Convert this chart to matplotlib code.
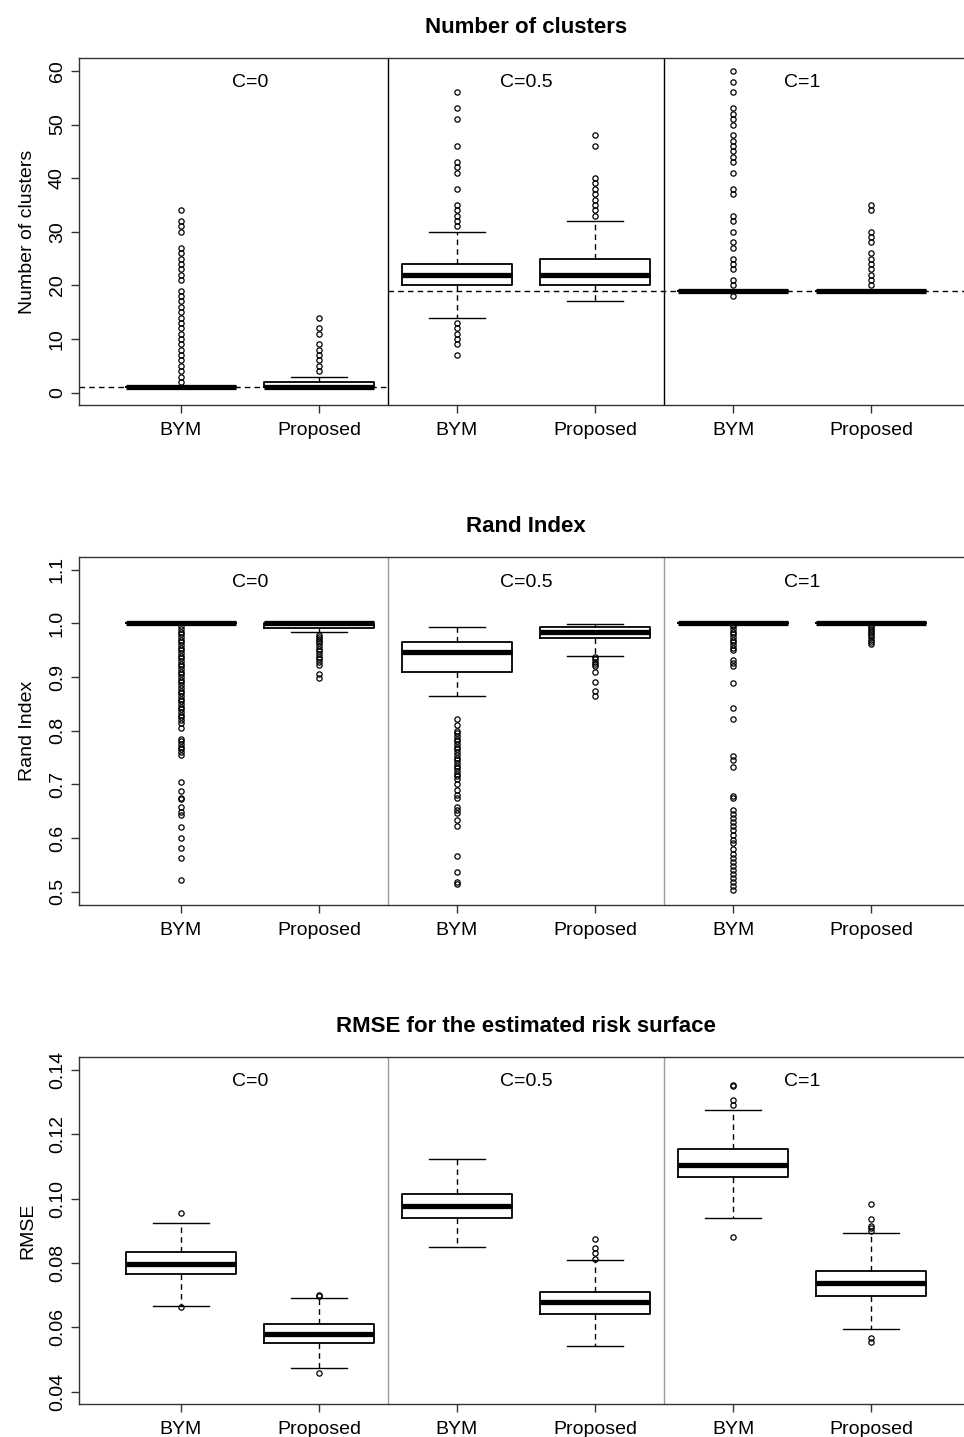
import matplotlib
matplotlib.use("Agg")
import matplotlib.pyplot as plt

plt.rcParams['font.family'] = ['Liberation Sans', 'DejaVu Sans']

groups = ["BYM", "Proposed", "BYM", "Proposed", "BYM", "Proposed"]
c_labels = ["C=0", "C=0.5", "C=1"]

# number of clusters
nc_q1 = [1, 1, 20, 20, 19, 19]
nc_med = [1, 1, 22, 22, 19, 19]
nc_q3 = [1, 2, 24, 25, 19, 19]
nc_lo = [1, 1, 14, 17, 19, 19]
nc_hi = [1, 3, 30, 32, 19, 19]
nc_out = [
    [2, 3, 4, 5, 6, 7, 8, 9, 10, 11, 12, 13, 14, 15, 16, 17, 18, 19, 21, 22, 23, 24, 25, 26, 27, 30, 31, 32, 34],
    [4, 5, 6, 7, 8, 9, 11, 12, 14],
    [7, 9, 10, 11, 12, 13, 31, 32, 33, 34, 35, 38, 41, 42, 43, 46, 51, 53, 56],
    [33, 34, 35, 36, 37, 38, 39, 40, 46, 48],
    [18, 20, 21, 23, 24, 25, 27, 28, 30, 32, 33, 37, 38, 41, 43, 44, 45, 46, 47, 48, 50, 51, 52, 53, 56, 58, 60],
    [20, 21, 22, 23, 24, 25, 26, 28, 29, 30, 34, 35],
]
nc_true = [1, 19, 19]

# rand index
ri_q1 = [1.0, 0.9924, 0.909, 0.973, 1.0, 1.0]
ri_med = [1.0, 1.0, 0.946, 0.984, 1.0, 1.0]
ri_q3 = [1.0, 1.0, 0.966, 0.993, 1.0, 1.0]
ri_lo = [1.0, 0.985, 0.864, 0.940, 1.0, 1.0]
ri_hi = [1.0, 1.0, 0.993, 0.999, 1.0, 1.0]
ri_out = [
    [0.995, 0.99, 0.985, 0.98, 0.975, 0.97, 0.965, 0.96, 0.955, 0.95, 0.945, 0.94, 0.935, 0.93,
     0.925, 0.92, 0.915, 0.91, 0.905, 0.9, 0.895, 0.89, 0.885, 0.88, 0.875, 0.87, 0.865, 0.86,
     0.855, 0.85, 0.845, 0.84, 0.835, 0.83, 0.825, 0.82, 0.815, 0.805, 0.785, 0.78, 0.775, 0.77,
     0.765, 0.76, 0.755, 0.705, 0.687, 0.675, 0.672, 0.657, 0.648, 0.643, 0.62, 0.6, 0.582,
     0.562, 0.522],
    [0.979, 0.975, 0.971, 0.967, 0.963, 0.958, 0.953, 0.948, 0.943, 0.938, 0.933, 0.928, 0.923,
     0.906, 0.898],
    [0.821, 0.811, 0.80, 0.795, 0.79, 0.785, 0.78, 0.775, 0.77, 0.765, 0.76, 0.755, 0.75, 0.745,
     0.74, 0.735, 0.73, 0.725, 0.72, 0.715, 0.71, 0.70, 0.69, 0.68, 0.675, 0.658, 0.652, 0.646,
     0.634, 0.622, 0.566, 0.537, 0.517, 0.514],
    [0.937, 0.933, 0.929, 0.925, 0.920, 0.910, 0.890, 0.875, 0.864],
    [0.998, 0.995, 0.99, 0.985, 0.98, 0.975, 0.97, 0.965, 0.96, 0.955, 0.95, 0.932, 0.926, 0.921,
     0.889, 0.842, 0.821, 0.753, 0.745, 0.733, 0.678, 0.674, 0.652, 0.645, 0.638, 0.63, 0.622,
     0.615, 0.606, 0.597, 0.59, 0.58, 0.57, 0.562, 0.555, 0.548, 0.54, 0.532, 0.525, 0.518,
     0.51, 0.503],
    [0.998, 0.994, 0.99, 0.986, 0.982, 0.978, 0.974, 0.970, 0.966, 0.962],
]

# rmse
rm_q1 = [0.0766, 0.0551, 0.0940, 0.0643, 0.1068, 0.0697]
rm_med = [0.0797, 0.0579, 0.0976, 0.0678, 0.1105, 0.0737]
rm_q3 = [0.0833, 0.0609, 0.1013, 0.0711, 0.1154, 0.0776]
rm_lo = [0.0667, 0.0475, 0.0849, 0.0543, 0.0939, 0.0594]
rm_hi = [0.0924, 0.0692, 0.1122, 0.0809, 0.1274, 0.0893]
rm_out = [
    [0.0954, 0.0662],
    [0.0700, 0.0698, 0.0457],
    [],
    [0.0874, 0.0847, 0.0830, 0.0814],
    [0.1352, 0.1349, 0.1305, 0.1291, 0.0880],
    [0.0983, 0.0937, 0.0915, 0.0908, 0.0899, 0.0568, 0.0555],
]

W, H = 964, 1437
XMIN, XMAX = 0.261, 6.739
FS = 14


def make_stats(q1, med, q3, lo, hi, out):
    stats = []
    for i in range(len(med)):
        stats.append(dict(med=med[i], q1=q1[i], q3=q3[i], whislo=lo[i],
                          whishi=hi[i], fliers=out[i], label=groups[i]))
    return stats


def draw_panel(top, bottom, stats, title, ylabel, ylim, yticks, yticklabels, sepcolor):
    ax = fig.add_axes([79 / W, 1 - bottom / H, (973 - 79) / W, (bottom - top) / H])
    ax.bxp(stats, positions=range(1, 7), widths=0.8, capwidths=0.4,
           boxprops=dict(color='black', linewidth=1.3),
           medianprops=dict(color='black', linewidth=3.8, solid_capstyle='butt'),
           whiskerprops=dict(color='black', linewidth=1.0, linestyle=(0, (4, 3))),
           capprops=dict(color='black', linewidth=1.0),
           flierprops=dict(marker='o', markerfacecolor='none', markeredgecolor='black',
                           markersize=3.8, markeredgewidth=0.9, linestyle='none'))
    ax.set_xlim(XMIN, XMAX)
    ax.set_ylim(*ylim)
    ax.set_yticks(yticks)
    ax.set_yticklabels(yticklabels, rotation=90, va='center')
    ax.tick_params(axis='both', direction='out', length=5.5, width=1.0, labelsize=FS,
                   color='#333333')
    ax.tick_params(axis='x', pad=7)
    ax.tick_params(axis='y', pad=4)
    for s in ax.spines.values():
        s.set_color('#333333')
        s.set_linewidth(1.0)
    for xs in [2.5, 4.5]:
        ax.axvline(xs, color=sepcolor, linewidth=1.0, zorder=1)
    for k, lab in enumerate(c_labels):
        ax.text(1.5 + 2 * k, 0.928, lab, transform=ax.get_xaxis_transform(),
                ha='center', va='center', fontsize=FS)
    ax.set_title(title, fontsize=16, fontweight='bold', pad=18)
    ax.set_ylabel(ylabel, fontsize=FS, labelpad=9)
    return ax


fig = plt.figure(figsize=(W / 100, H / 100), dpi=100)

ax1 = draw_panel(58, 405, make_stats(nc_q1, nc_med, nc_q3, nc_lo, nc_hi, nc_out),
                 "Number of clusters", "Number of clusters", (-2.3, 62.4),
                 [0, 10, 20, 30, 40, 50, 60], ["0", "10", "20", "30", "40", "50", "60"], 'black')
ax1.hlines(nc_true[0], XMIN, 2.5, colors='black', linestyles=(0, (4, 3)), linewidth=1.0, zorder=1)
ax1.hlines(nc_true[1], 2.5, XMAX, colors='black', linestyles=(0, (4, 3)), linewidth=1.0, zorder=1)

draw_panel(557, 905, make_stats(ri_q1, ri_med, ri_q3, ri_lo, ri_hi, ri_out),
           "Rand Index", "Rand Index", (0.475, 1.124),
           [0.5, 0.6, 0.7, 0.8, 0.9, 1.0, 1.1], ["0.5", "0.6", "0.7", "0.8", "0.9", "1.0", "1.1"], '#999999')

draw_panel(1057, 1404, make_stats(rm_q1, rm_med, rm_q3, rm_lo, rm_hi, rm_out),
           "RMSE for the estimated risk surface", "RMSE", (0.0362, 0.144),
           [0.04, 0.06, 0.08, 0.10, 0.12, 0.14], ["0.04", "0.06", "0.08", "0.10", "0.12", "0.14"], '#999999')

fig.savefig("out.png", dpi=100)
